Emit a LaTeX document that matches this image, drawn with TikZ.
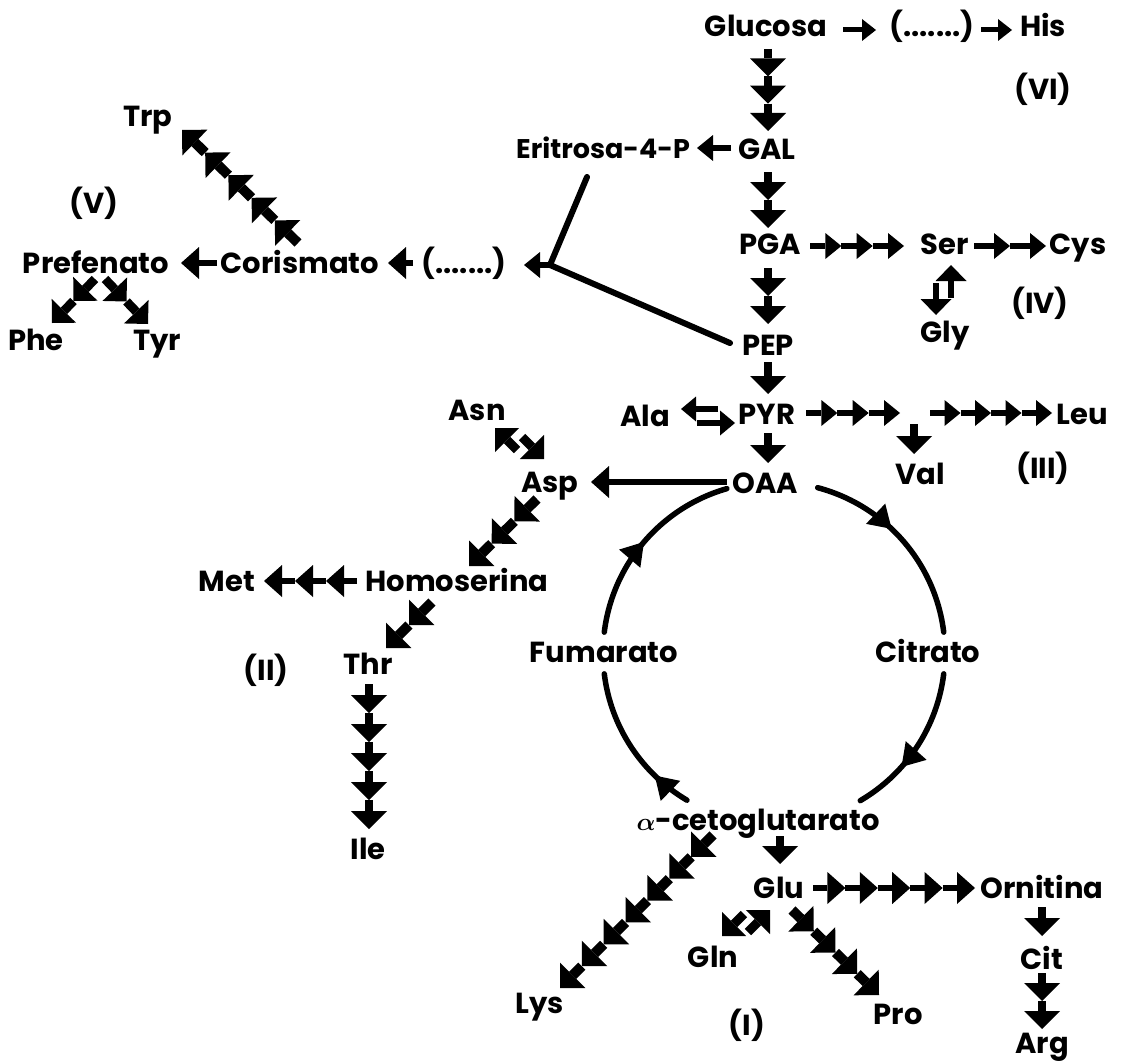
\documentclass[tikz,border=0pt]{standalone}
\usepackage{fontspec}
\setmainfont{Poppins}
\usetikzlibrary{arrows.meta,calc,decorations.markings}

\newcommand{\achain}[4]{%
  \foreach \k in {1,...,#4}{%
    \pgfmathsetmacro{\ta}{(\k-1)/#4}%
    \pgfmathsetmacro{\tb}{\k/#4}%
    \draw[#1] ($(#2)!\ta!(#3)$) -- ($(#2)!\tb!(#3)$);
  }%
}

\tikzset{
 lbl/.style={font=\fontsize{29}{33}\selectfont\bfseries\boldmath, inner sep=0pt, text height=20pt, text depth=0pt, anchor=center},
 hs/.style={line width=5pt, -{Triangle[width=22pt,length=14pt,line width=0pt]}},
 hm/.style={line width=5.5pt, -{Triangle[width=26pt,length=16pt,line width=0pt]}},
 hp/.style={line width=5.5pt, -{Triangle[width=25pt,length=15pt,line width=0pt]}},
 hl/.style={line width=6.5pt, -{Triangle[width=32pt,length=18pt,line width=0pt]}},
 va/.style={line width=8.5pt, -{Triangle[width=36pt,length=18pt,line width=0pt]}},
 vs/.style={line width=6.5pt, -{Triangle[width=31pt,length=16pt,line width=0pt]}},
 da/.style={line width=10pt, -{Triangle[width=36pt,length=18pt,line width=0pt]}},
 ds/.style={line width=9pt, -{Triangle[width=34pt,length=17pt,line width=0pt]}},
 cyc/.style={line width=5.5pt, line cap=round},
 mk/.style={postaction={decorate}, decoration={markings, mark=at position #1 with {\arrow{Triangle[width=28pt,length=22pt,line width=0pt]}}}},
}

\begin{document}
\begin{tikzpicture}[x=1pt,y=-1pt]
\fill[white] (0,0) rectangle (1126,1062);
\path[use as bounding box] (0,0) rectangle (1126,1062);

% ---------- labels ----------
\node[lbl] (glc) at (766,27) {Glucosa};
\node[lbl] (dt1) at (932,27) {(.......)};
\node[lbl] (his) at (1043,27) {His};
\node[lbl] (vi) at (1043,90) {(VI)};
\node[lbl] (gal) at (767,149) {GAL};
\node[lbl, font=\fontsize{27}{31}\selectfont\bfseries] (eri) at (603,148) {Eritrosa-4-P};
\node[lbl] (pga) at (770,244) {PGA};
\node[lbl] (ser) at (945,244) {Ser};
\node[lbl] (cys) at (1078,244) {Cys};
\node[lbl] (gly) at (945,332) {Gly};
\node[lbl] (iv) at (1040,303) {(IV)};
\node[lbl] (pep) at (768,345) {PEP};
\node[lbl] (dt2) at (464,263) {(.......)};
\node[lbl] (cor) at (300,263) {Corismato};
\node[lbl] (pre) at (96,263) {Prefenato};
\node[lbl] (trp) at (148,116) {Trp};
\node[lbl] (v) at (94,203) {(V)};
\node[lbl] (phe) at (36,340) {Phe};
\node[lbl] (tyr) at (157,340) {Tyr};
\node[lbl] (ala) at (645,416) {Ala};
\node[lbl] (pyr) at (767,414) {PYR};
\node[lbl] (leu) at (1082,414) {Leu};
\node[lbl] (val) at (920,474) {Val};
\node[lbl] (iii) at (1043,468) {(III)};
\node[lbl] (asn) at (477,410) {Asn};
\node[lbl] (asp) at (550,482) {Asp};
\node[lbl] (oaa) at (765,483) {OAA};
\node[lbl] (hom) at (457,581) {Homoserina};
\node[lbl] (met) at (227,581) {Met};
\node[lbl] (thr) at (368,664) {Thr};
\node[lbl] (ii) at (266,670) {(II)};
\node[lbl] (ile) at (368,849) {Ile};
\node[lbl] (fum) at (604,652) {Fumarato};
\node[lbl] (cit) at (928,652) {Citrato};
\node[lbl] (akg) at (758,820) {$\alpha$-cetoglutarato};
\node[lbl] (glu) at (779,888) {Glu};
\node[lbl] (orn) at (1042,888) {Ornitina};
\node[lbl] (citr) at (1042,959) {Cit};
\node[lbl] (arg) at (1042,1043) {Arg};
\node[lbl] (gln) at (713,957) {Gln};
\node[lbl] (pro) at (898,1014) {Pro};
\node[lbl] (lys) at (540,1003) {Lys};
\node[lbl] (ni) at (747,1025) {(I)};

% ---------- connector end points ----------
\coordinate (a1) at (843,30);  \coordinate (a2) at (876,30);
\coordinate (b1) at (981,30);  \coordinate (b2) at (1012,30);
\coordinate (c1) at (768,49);  \coordinate (c2) at (768,131);
\coordinate (d1) at (731,148); \coordinate (d2) at (697,148);
\coordinate (e1) at (768,172); \coordinate (e2) at (768,228);
\coordinate (f1) at (810,246); \coordinate (f2) at (904,246);
\coordinate (g1) at (974,246); \coordinate (g2) at (1046,246);
\coordinate (h1) at (951,298); \coordinate (h2) at (951,265);
\coordinate (h3) at (936,283); \coordinate (h4) at (936,315);
\coordinate (k1) at (768,268); \coordinate (k2) at (768,324);
\coordinate (l1) at (768,362); \coordinate (l2) at (768,394);
\coordinate (ert) at (587,177); \coordinate (jn) at (550,265); \coordinate (pepw) at (730,343);
\coordinate (jt) at (524,265);
\coordinate (m1) at (413,263); \coordinate (m2) at (388,263);
\coordinate (n1) at (217,263); \coordinate (n2) at (181,263);
\coordinate (t1) at (298,243); \coordinate (t2) at (182,130);
\coordinate (p0) at (95,279);  \coordinate (p1) at (52,323);
\coordinate (q0) at (105,279); \coordinate (q1) at (148,324);
\coordinate (r1) at (718,409); \coordinate (r2) at (681,409);
\coordinate (r3) at (697,423); \coordinate (r4) at (735,423);
\coordinate (s1) at (806,413); \coordinate (s2) at (900,413);
\coordinate (u1) at (914,424); \coordinate (u2) at (914,454);
\coordinate (w1) at (930,413); \coordinate (w2) at (1052,413);
\coordinate (o1) at (768,433); \coordinate (o2) at (768,463);
\coordinate (x1) at (727,482); \coordinate (x2) at (591,482);
\coordinate (y1) at (517,450); \coordinate (y2) at (495,428);
\coordinate (y3) at (522,437); \coordinate (y4) at (544,459);
\coordinate (z1) at (537,499); \coordinate (z2) at (469,566);
\coordinate (mt1) at (357,581); \coordinate (mt2) at (264,581);
\coordinate (th1) at (432,602); \coordinate (th2) at (386,648);
\coordinate (il1) at (369,684); \coordinate (il2) at (369,829);
\coordinate (gk1) at (780,836); \coordinate (gk2) at (780,864);
\coordinate (gu1) at (813,888); \coordinate (gu2) at (975,888);
\coordinate (or1) at (1042,907); \coordinate (or2) at (1042,936);
\coordinate (ct1) at (1042,973); \coordinate (ct2) at (1042,1029);
\coordinate (ly1) at (713,835); \coordinate (ly2) at (560,988);
\coordinate (gq1) at (744,914); \coordinate (gq2) at (722,936);
\coordinate (gq3) at (748,932); \coordinate (gq4) at (770,910);
\coordinate (pr1) at (792,910); \coordinate (pr2) at (879,995);
\coordinate (cc) at (774,653);

% ---------- arrows ----------
\draw[hs] (a1) -- (a2);
\draw[hs] (b1) -- (b2);
\achain{va}{c1}{c2}{3}
\draw[hm] (d1) -- (d2);
\achain{va}{e1}{e2}{2}
\achain{hm}{f1}{f2}{3}
\achain{hm}{g1}{g2}{2}
\draw[vs] (h1) -- (h2);
\draw[vs] (h3) -- (h4);
\achain{va}{k1}{k2}{2}
\draw[va] (l1) -- (l2);
\draw[line width=6pt, line cap=round, line join=round] (ert) -- (jn) -- (pepw);
\draw[hm] (jn) -- (jt);
\draw[hl] (m1) -- (m2);
\draw[hl] (n1) -- (n2);
\achain{da}{t1}{t2}{5}
\achain{ds}{p0}{p1}{2}
\achain{ds}{q0}{q1}{2}
\draw[hp] (r1) -- (r2);
\draw[hp] (r3) -- (r4);
\achain{hm}{s1}{s2}{3}
\draw[va] (u1) -- (u2);
\achain{hm}{w1}{w2}{4}
\draw[va] (o1) -- (o2);
\draw[hl] (x1) -- (x2);
\draw[ds] (y1) -- (y2);
\draw[ds] (y3) -- (y4);
\achain{da}{z1}{z2}{3}
\achain{hl}{mt1}{mt2}{3}
\achain{da}{th1}{th2}{2}
\achain{va}{il1}{il2}{5}
\draw[va] (gk1) -- (gk2);
\achain{hl}{gu1}{gu2}{5}
\draw[va] (or1) -- (or2);
\achain{va}{ct1}{ct2}{2}
\achain{da}{ly1}{ly2}{7}
\draw[ds] (gq1) -- (gq2);
\draw[ds] (gq3) -- (gq4);
\achain{da}{pr1}{pr2}{4}

% ---------- cycle ----------
\draw[cyc, mk=0.42] ([shift={(284.8:171)}]cc) arc[start angle=284.8, end angle=353, radius=171];
\draw[cyc, mk=0.66] ([shift={(7:171)}]cc) arc[start angle=7, end angle=59.7, radius=171];
\draw[cyc, mk=0.26] ([shift={(120.6:171)}]cc) arc[start angle=120.6, end angle=173, radius=171];
\draw[cyc, mk=0.50] ([shift={(187:171)}]cc) arc[start angle=187, end angle=254, radius=171];
\end{tikzpicture}
\end{document}
